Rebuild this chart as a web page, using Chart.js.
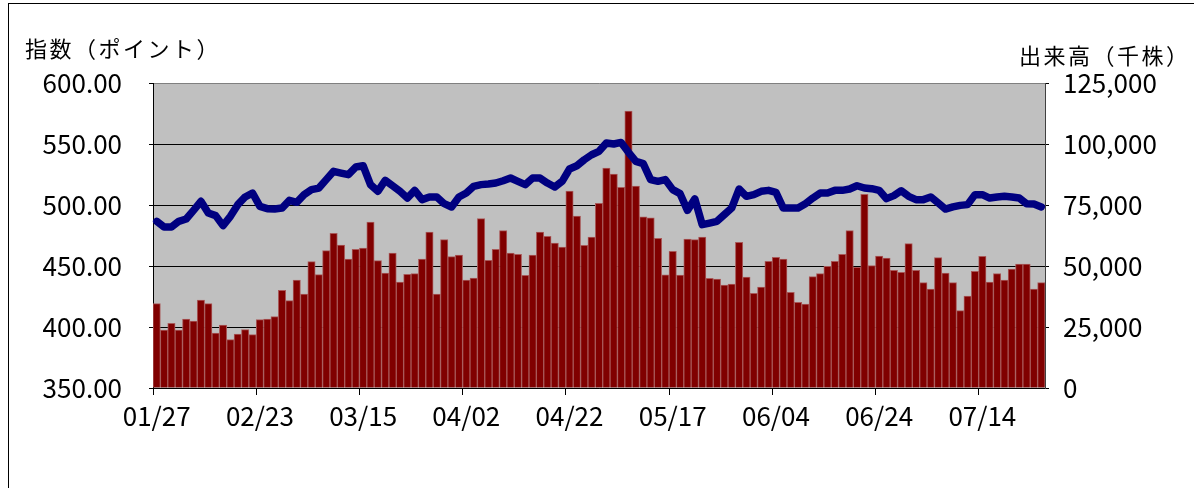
<!DOCTYPE html>
<html>
<head>
<meta charset="utf-8">
<script src="https://cdn.jsdelivr.net/npm/chart.js@4"></script>
<style>
  body { margin: 0; background: #fff; }
  #wrap { position: relative; width: 1194px; height: 488px; overflow: hidden; }
  #frame { position: absolute; left: 8px; top: 3px; width: 1300px; height: 600px; border-left: 1px solid #000; border-top: 1px solid #000; }
  .axisTitle { position: absolute; font-family: "Noto Sans CJK JP"; font-size: 22px; letter-spacing: 2.5px; color: #000; white-space: nowrap; line-height: 1; }
  canvas { position: absolute; left: 0; top: 0; }
</style>
</head>
<body>
<div id="wrap">
  <div id="frame"></div>
  <canvas id="chart" width="1194" height="488"></canvas>
  <div class="axisTitle" style="left:25px; top:36px;">指数（ポイント）</div>
  <div class="axisTitle" style="left:1019px; top:43px;">出来高（千株）</div>
</div>
<script>
// x-axis labels, one every 14 trading days
const tickLabels = ['01/27', '02/23', '03/15', '04/02', '04/22', '05/17', '06/04', '06/24', '07/14'];
const labelStep = 14;

// index (points), left axis
const indexValues = [
  486.6, 482.0, 482.0, 486.6, 488.5, 495.6, 503.0, 493.4, 491.3, 483.1,
  490.7, 500.3, 506.6, 509.8, 498.9, 497.0, 496.7, 497.5, 503.8, 502.2,
  508.5, 512.6, 513.9, 520.8, 527.6, 526.2, 524.9, 531.1, 532.2, 516.7,
  511.2, 520.2, 515.8, 511.2, 505.7, 512.0, 504.4, 506.6, 506.6, 501.1,
  498.4, 506.6, 509.8, 515.3, 516.7, 517.2, 518.0, 519.9, 522.1, 519.4,
  516.7, 522.1, 522.1, 518.0, 514.7, 519.4, 529.5, 532.2, 537.1, 541.2,
  544.0, 550.8, 550.0, 551.3, 543.2, 535.8, 533.9, 520.8, 519.4, 520.8,
  512.6, 509.3, 495.6, 505.0, 483.9, 485.2, 486.6, 492.1, 497.5, 513.1,
  507.1, 508.5, 511.2, 512.0, 510.4, 497.5, 497.5, 497.5, 501.1, 505.7,
  509.8, 509.8, 512.0, 512.0, 513.1, 515.8, 513.9, 513.4, 512.0, 505.2,
  507.7, 511.7, 507.1, 504.4, 504.4, 506.6, 501.7, 496.7, 498.4, 499.7,
  500.3, 508.5, 508.5, 505.7, 506.6, 507.1, 506.6, 505.7, 501.1, 500.8,
  498.4
];

// volume (thousand shares), right axis
const volumeValues = [
  34560, 23770, 26500, 23770, 28280, 27460, 36060, 34560, 22540, 25820,
  19810, 22130, 23900, 21860, 28000, 28280, 29230, 40020, 35790, 44260,
  38520, 51770, 46440, 56280, 63380, 58600, 52860, 56830, 57370, 68030,
  52180, 47130, 55320, 43440, 46580, 46850, 52860, 63930, 38520, 60790,
  53820, 54500, 44260, 45080, 69390, 52320, 56830, 64480, 55320, 54780,
  46170, 54500, 63920, 62140, 59410, 57770, 80720, 70470, 58450, 61870,
  75660, 90140, 87680, 82220, 113500, 82770, 70200, 69790, 61320, 46400,
  56010, 46310, 61060, 60790, 61880, 44940, 44670, 42210, 42620, 59690,
  45490, 38790, 41390, 51910, 53550, 52860, 39200, 35110, 34420, 45620,
  46850, 49860, 51910, 54780, 64480, 49450, 79360, 50130, 54090, 53270,
  48220, 47400, 59150, 48220, 43170, 40570, 53410, 47130, 43170, 31690,
  37700, 47810, 53960, 43440, 46850, 44260, 48770, 50820, 50820, 40570,
  43170
];

const categories = volumeValues.map((_, i) => i % labelStep === 0 ? tickLabels[i / labelStep] : '');

const tickFont = { family: 'Noto Sans CJK JP', size: 26 };

// grey plot area like the original sheet chart
const plotBg = {
  id: 'plotBg',
  beforeDraw(chart) {
    const { ctx, chartArea: a } = chart;
    ctx.save();
    ctx.fillStyle = '#c0c0c0';
    ctx.fillRect(a.left, a.top, a.right - a.left, a.bottom - a.top);
    ctx.restore();
  }
};

new Chart(document.getElementById('chart'), {
  type: 'bar',
  data: {
    labels: categories,
    datasets: [
      {
        type: 'line',
        label: '指数',
        data: indexValues,
        yAxisID: 'y',
        borderColor: '#000080',
        borderWidth: 7.5,
        pointRadius: 0,
        tension: 0,
        borderJoinStyle: 'round',
        borderCapStyle: 'round',
        order: 1
      },
      {
        type: 'bar',
        label: '出来高',
        data: volumeValues,
        yAxisID: 'y1',
        backgroundColor: '#800000',
        borderColor: '#a85858',
        borderWidth: 1,
        barPercentage: 1,
        categoryPercentage: 1,
        order: 2
      }
    ]
  },
  options: {
    responsive: false,
    animation: false,
    devicePixelRatio: 1,
    layout: { padding: { top: 83, left: 0, right: 0, bottom: 0 } },
    plugins: { legend: { display: false }, tooltip: { enabled: false } },
    scales: {
      x: {
        offset: true,
        grid: {
          offset: true,
          drawOnChartArea: false,
          tickLength: 7,
          tickColor: ctx => ctx.index % labelStep === 0 ? '#000' : 'rgba(0,0,0,0)'
        },
        border: { color: '#000' },
        ticks: { autoSkip: false, maxRotation: 0, minRotation: 0, padding: 6, color: '#000', font: tickFont },
        afterFit: s => { s.height = 100; }
      },
      y: {
        position: 'left',
        min: 350,
        max: 600,
        ticks: { stepSize: 50, padding: 27, color: '#000', font: tickFont, callback: v => v.toFixed(2) },
        grid: {
          color: ctx => ctx.tick && ctx.tick.value === 600 ? '#808080' : '#000',
          tickLength: 4,
          tickColor: '#000'
        },
        border: { color: '#000' },
        afterFit: s => { s.width = 153; }
      },
      y1: {
        position: 'right',
        min: 0,
        max: 125000,
        ticks: { stepSize: 25000, padding: 14, color: '#000', font: tickFont, callback: v => v.toLocaleString('en-US') },
        grid: { drawOnChartArea: false, tickLength: 4, tickColor: '#000' },
        border: { color: '#404040' },
        afterFit: s => { s.width = 149; }
      }
    }
  },
  plugins: [plotBg]
});
</script>
</body>
</html>
